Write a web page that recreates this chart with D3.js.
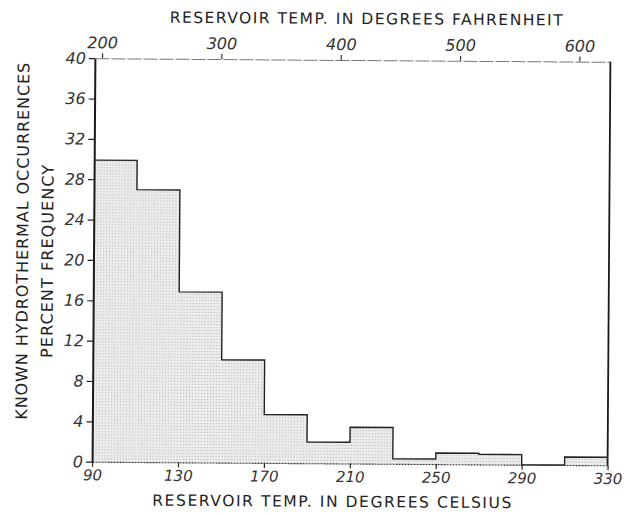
<!DOCTYPE html>
<html>
<head>
<meta charset="utf-8">
<script src="https://cdn.jsdelivr.net/npm/d3@7"></script>
<style>
  body { margin: 0; background: #fff; }
  svg { display: block; }
</style>
</head>
<body>
<div id="wrapper"></div>
<script>
// histogram bins (deg C) and percent frequency
const binStarts = [90, 110, 130, 150, 170, 190, 210, 230, 250, 270, 290, 310];
const binWidth = 20;
const percents = [29.9, 27.0, 16.9, 10.2, 4.8, 2.1, 3.6, 0.5, 1.1, 1.0, 0, 0.8];
const celsiusTicks = [90, 130, 170, 210, 250, 290, 330];
const fahrenheitTicks = [200, 300, 400, 500, 600];
const yTicks = [0, 4, 8, 12, 16, 20, 24, 28, 32, 36, 40];

const dimension = { width: 633, height: 515 };
const plot = { left: 93.5, right: 609, top: 60, bottom: 463.5 };

const svg = d3.select("#wrapper").append("svg")
    .attr("width", dimension.width)
    .attr("height", dimension.height);

// stipple fill like the printed screen tone
const defs = svg.append("defs");
const pat = defs.append("pattern")
    .attr("id", "stipple")
    .attr("patternUnits", "userSpaceOnUse")
    .attr("width", 3).attr("height", 3);
pat.append("rect").attr("width", 3).attr("height", 3).attr("fill", "#ececec");
pat.append("rect").attr("x", 1).attr("y", 1).attr("width", 1).attr("height", 1).attr("fill", "#b0b0b0");

// the scan is a little tilted
const g = svg.append("g")
    .attr("transform", "rotate(0.4, 350, 260)");

const xScaler = d3.scaleLinear()
    .domain([90, 330])
    .range([plot.left, plot.right]);

const cToF = c => c * 9 / 5 + 32;
const xScalerF = d3.scaleLinear()
    .domain([cToF(90), cToF(330)])
    .range([plot.left, plot.right]);

const yScaler = d3.scaleLinear()
    .domain([0, 40])
    .range([plot.bottom, plot.top]);

const bins = binStarts.map((s, i) => ({ x0: s, x1: s + binWidth, v: percents[i] }));

// bars
g.append("g").selectAll("rect")
    .data(bins.filter(d => d.v > 0))
    .join("rect")
    .attr("x", d => xScaler(d.x0))
    .attr("width", d => xScaler(d.x1) - xScaler(d.x0))
    .attr("y", d => yScaler(d.v))
    .attr("height", d => yScaler(0) - yScaler(d.v))
    .attr("fill", "url(#stipple)");

// step outline
const stepPts = [];
bins.forEach(d => { stepPts.push([d.x0, d.v]); stepPts.push([d.x1, d.v]); });
const lineGenerator = d3.line()
    .x(d => xScaler(d[0]))
    .y(d => yScaler(d[1]));
g.append("path")
    .attr("d", lineGenerator(stepPts))
    .attr("fill", "none")
    .attr("stroke", "#222")
    .attr("stroke-width", 1.4);

const tickFont = "'DejaVu Sans', sans-serif";

// bottom axis (celsius)
const xAxis = d3.axisBottom(xScaler)
    .tickValues(celsiusTicks)
    .tickSize(5)
    .tickSizeOuter(0)
    .tickPadding(3);
const gx = g.append("g")
    .attr("transform", `translate(0,${plot.bottom})`)
    .call(xAxis);
gx.select(".domain").attr("stroke", "#333").attr("stroke-width", 1.1).attr("stroke-dasharray", "2,1");
gx.selectAll(".tick line").attr("stroke", "#222").attr("stroke-width", 1.2);
gx.selectAll(".tick text")
    .attr("font-family", tickFont).attr("font-style", "italic")
    .attr("font-size", 15).attr("fill", "#333");

// top axis (fahrenheit)
const xAxisF = d3.axisTop(xScalerF)
    .tickValues(fahrenheitTicks)
    .tickSize(5)
    .tickSizeOuter(0)
    .tickPadding(5);
const gxf = g.append("g")
    .attr("transform", `translate(0,${plot.top})`)
    .call(xAxisF);
gxf.select(".domain").attr("stroke", "#777").attr("stroke-width", 1).attr("stroke-dasharray", "14,2");
gxf.selectAll(".tick line").attr("stroke", "#333").attr("stroke-width", 1.2);
gxf.selectAll(".tick text")
    .attr("font-family", tickFont).attr("font-style", "italic")
    .attr("font-size", 16).attr("fill", "#333");

// left axis
const yAxis = d3.axisLeft(yScaler)
    .tickValues(yTicks)
    .tickSize(6)
    .tickSizeOuter(0)
    .tickPadding(3);
const gy = g.append("g")
    .attr("transform", `translate(${plot.left},0)`)
    .call(yAxis);
gy.select(".domain").attr("stroke", "#1a1a1a").attr("stroke-width", 2);
gy.selectAll(".tick line").attr("stroke", "#222").attr("stroke-width", 1.2);
gy.selectAll(".tick text")
    .attr("font-family", tickFont).attr("font-style", "italic")
    .attr("font-size", 16).attr("fill", "#333");

// right frame
g.append("line")
    .attr("x1", plot.right).attr("x2", plot.right)
    .attr("y1", plot.top).attr("y2", plot.bottom)
    .attr("stroke", "#1a1a1a").attr("stroke-width", 1.8);

// titles
const titleFont = "'DejaVu Sans', sans-serif";
g.append("text")
    .attr("x", 168).attr("y", 24)
    .attr("textLength", 393).attr("lengthAdjust", "spacing")
    .attr("font-family", titleFont).attr("font-size", 15.5).attr("fill", "#222")
    .text("RESERVOIR TEMP. IN DEGREES FAHRENHEIT");

g.append("text")
    .attr("x", 154).attr("y", 507)
    .attr("textLength", 359).attr("lengthAdjust", "spacing")
    .attr("font-family", titleFont).attr("font-size", 15.5).attr("fill", "#222")
    .text("RESERVOIR TEMP. IN DEGREES CELSIUS");

g.append("text")
    .attr("transform", "translate(28,422) rotate(-90)")
    .attr("textLength", 357).attr("lengthAdjust", "spacing")
    .attr("font-family", titleFont).attr("font-size", 16).attr("fill", "#222")
    .text("KNOWN HYDROTHERMAL OCCURRENCES");

g.append("text")
    .attr("transform", "translate(53,360) rotate(-90)")
    .attr("textLength", 193).attr("lengthAdjust", "spacing")
    .attr("font-family", titleFont).attr("font-size", 16).attr("fill", "#222")
    .text("PERCENT FREQUENCY");
</script>
</body>
</html>
